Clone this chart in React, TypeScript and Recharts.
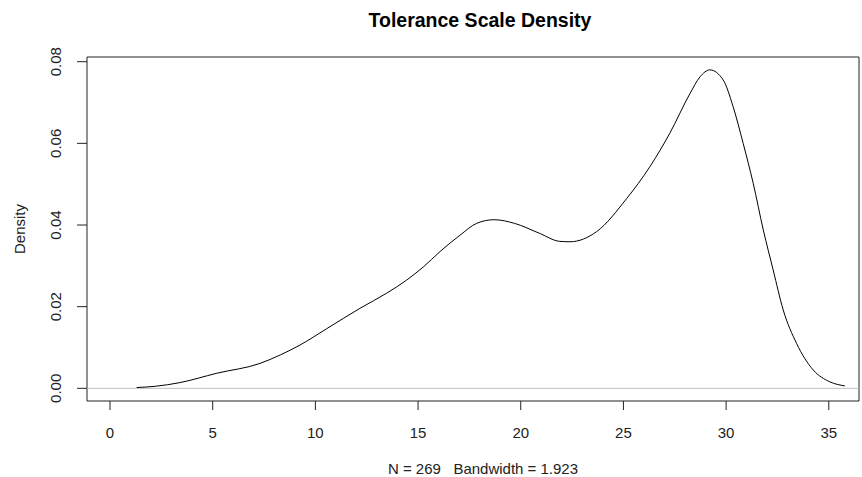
import React from "react";
import {
  LineChart,
  Line,
  XAxis,
  YAxis,
  ReferenceLine,
  ReferenceArea,
  Label,
} from "recharts";

// Kernel density estimate of the tolerance scale (x = score, y = density)
const densityX = [
  1.3, 2.2, 3.4, 5.2, 7.3, 8.3, 9.25, 10.55, 12.17, 13.47, 14.44, 15.25, 16.07,
  17.04, 17.85, 18.7, 19.7, 20.9, 21.9, 22.4, 23.7, 25.16, 26.29, 27.26, 28.24,
  28.73, 29.21, 29.86, 30.34, 30.83, 31.32, 31.81, 32.29, 32.78, 33.43, 34.24,
  35.05, 35.78,
];
const densityY = [
  0.0002, 0.0005, 0.0014, 0.0037, 0.0061, 0.0082, 0.0106, 0.0146, 0.0196,
  0.0233, 0.0265, 0.0297, 0.0335, 0.0375, 0.0404, 0.0413, 0.0404, 0.038, 0.036,
  0.0359, 0.0384, 0.0465, 0.0543, 0.0625, 0.0722, 0.0763, 0.078, 0.0755, 0.069,
  0.06, 0.0502, 0.0388, 0.029, 0.0192, 0.011, 0.0045, 0.0016, 0.0006,
];
const xTicks = [0, 5, 10, 15, 20, 25, 30, 35];
const yTicks = [0, 0.02, 0.04, 0.06, 0.08];

const X_DOMAIN: [number, number] = [-1.12, 36.47];
const Y_DOMAIN: [number, number] = [-0.0031, 0.08115];

const data = densityX.map((x, i) => ({ x, y: densityY[i] }));

const FONT = '"Liberation Sans", Arial, sans-serif';
const INK = "#222";

function YTick(props: any) {
  const { y, payload } = props;
  return (
    <text
      x={56}
      y={y}
      transform={`rotate(-90, 56, ${y})`}
      textAnchor="middle"
      dominantBaseline="central"
      fontSize={15}
      fontFamily={FONT}
      fill={INK}
    >
      {payload.value.toFixed(2)}
    </text>
  );
}

export default function App() {
  return (
    <div
      style={{
        position: "absolute",
        left: 0,
        top: 0,
        width: 862,
        height: 477,
        background: "#fff",
        fontFamily: FONT,
        overflow: "hidden",
      }}
    >
      <div
        style={{
          position: "absolute",
          left: 0,
          width: 960,
          top: 9,
          textAlign: "center",
          fontWeight: "bold",
          fontSize: 19.5,
          color: "#000",
        }}
      >
        Tolerance Scale Density
      </div>
      <LineChart
        width={862}
        height={477}
        data={data}
        margin={{ top: 57, right: 3, bottom: 46, left: 47 }}
      >
        <XAxis
          dataKey="x"
          type="number"
          domain={X_DOMAIN}
          ticks={xTicks}
          allowDataOverflow
          axisLine={false}
          tickLine={{ stroke: INK }}
          tickSize={9}
          tickMargin={17}
          height={30}
          tick={{ fontSize: 15, fill: INK, fontFamily: FONT }}
        />
        <YAxis
          type="number"
          domain={Y_DOMAIN}
          ticks={yTicks}
          allowDataOverflow
          axisLine={false}
          tickLine={{ stroke: INK }}
          tickSize={10}
          width={40}
          tick={<YTick />}
        >
          <Label
            value="Density"
            angle={-90}
            position="center"
            dx={-47}
            style={{ fontSize: 15, fill: INK, fontFamily: FONT }}
          />
        </YAxis>
        <ReferenceArea
          x1={X_DOMAIN[0]}
          x2={X_DOMAIN[1]}
          y1={Y_DOMAIN[0]}
          y2={Y_DOMAIN[1]}
          fill="none"
          stroke={INK}
          strokeWidth={1}
          ifOverflow="visible"
        />
        <ReferenceLine y={0} stroke="#bebebe" strokeWidth={1} />
        <Line
          type="monotone"
          dataKey="y"
          stroke="#000"
          strokeWidth={1}
          dot={false}
          isAnimationActive={false}
        />
      </LineChart>
      <div
        style={{
          position: "absolute",
          left: 0,
          width: 966,
          top: 460,
          textAlign: "center",
          fontSize: 15,
          color: INK,
          whiteSpace: "pre",
        }}
      >
        {"N = 269   Bandwidth = 1.923"}
      </div>
    </div>
  );
}
